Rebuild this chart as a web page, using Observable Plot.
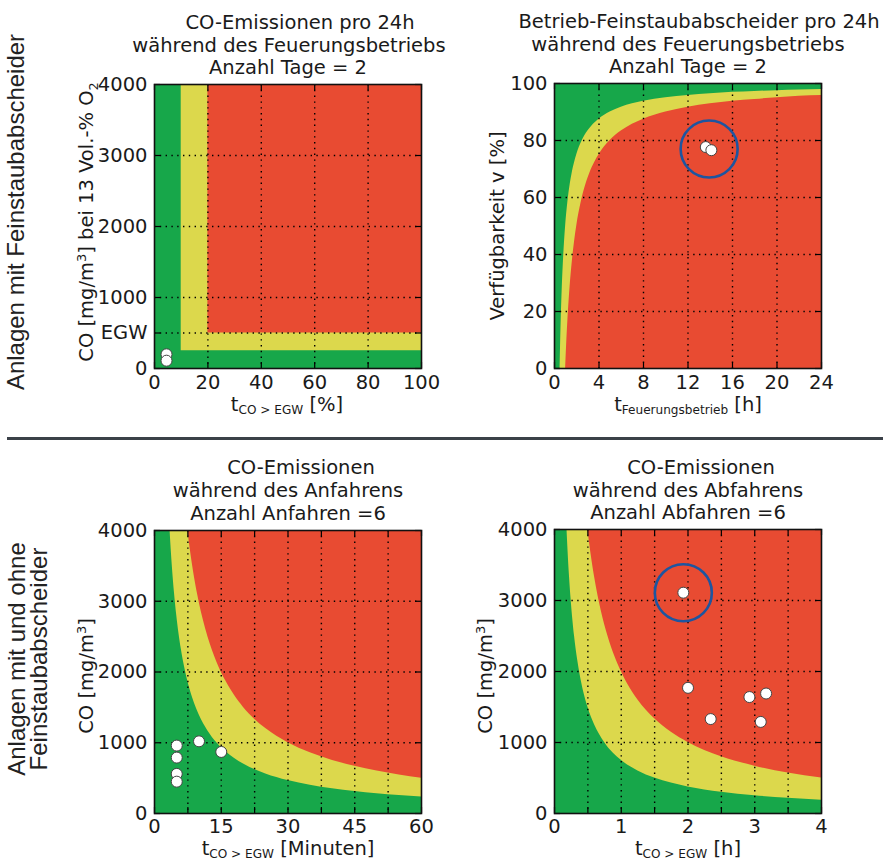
<!DOCTYPE html>
<html><head><meta charset="utf-8">
<script src="https://cdn.jsdelivr.net/npm/d3@7"></script>
<script src="https://cdn.jsdelivr.net/npm/@observablehq/plot@0.6"></script>
<style>
html,body{margin:0;padding:0;background:#fff;}
#root{position:relative;width:883px;height:861px;overflow:hidden;background:#fff;font-family:"DejaVu Sans",sans-serif;color:#1a1a1a;}
.lbl{position:absolute;white-space:nowrap;font-size:19.5px;line-height:22px;transform:translate(-50%,-50%);}
.xl{line-height:10px;}
.rot{position:absolute;white-space:nowrap;font-size:19.5px;line-height:22px;transform:translate(-50%,-50%) rotate(-90deg);text-align:center;}
.side{font-family:"Liberation Sans",Arial,sans-serif;font-size:24px;line-height:22px;color:#222;}
sub,sup{font-size:0.66em;line-height:0;}
sub.s{font-size:0.62em;vertical-align:-0.22em;}
.sep{position:absolute;left:7px;top:437px;width:876px;height:3px;background:#3b4148;}
svg{position:absolute;}
</style></head>
<body><div id="root"><div class="sep"></div></div>
<script>
const GREEN = "#17a74a", YELLOW = "#dcd84c", RED = "#e84b32", RING = "#1d55a0";

// ---------- Panel 1: CO-Emissionen pro 24h ----------
const p1Title = ["CO-Emissionen pro 24h", "während des Feuerungsbetriebs", "Anzahl Tage = 2"];
const p1XTicks = [0, 20, 40, 60, 80, 100];
const p1XLabels = ["0", "20", "40", "60", "80", "100"];
const p1XGrid = [20, 40, 60, 80];
const p1YTicks = [0, 500, 1000, 2000, 3000, 4000];
const p1YLabels = ["0", "EGW", "1000", "2000", "3000", "4000"];
const p1YGrid = [500, 1000, 2000, 3000];
const p1YellowFrom = [10, 250];   // t [%], CO
const p1RedFrom = [20, 500];
const p1T = [4.5, 4.5];
const p1CO = [200, 110];

// ---------- Panel 2: Betrieb-Feinstaubabscheider ----------
const p2Title = ["Betrieb-Feinstaubabscheider pro 24h", "während des Feuerungsbetriebs", "Anzahl Tage = 2"];
const p2XTicks = [0, 4, 8, 12, 16, 20, 24];
const p2XLabels = ["0", "4", "8", "12", "16", "20", "24"];
const p2XGrid = [4, 8, 12, 16, 20];
const p2YTicks = [0, 20, 40, 60, 80, 100];
const p2YLabels = ["0", "20", "40", "60", "80", "100"];
const p2YGrid = [20, 40, 60, 80];
const p2GreenYellowT = [0.5, 0.55, 0.6, 0.7, 0.8, 0.9, 1, 1.2, 1.4, 1.6, 1.8, 2, 2.5, 3, 3.5, 4, 5, 6, 7, 8, 10, 12, 14, 16, 18, 20, 22, 24];
const p2GreenYellowV = [0, 9.1, 16.7, 28.6, 37.5, 44.4, 50, 58.3, 64.3, 68.8, 72.2, 75, 80, 83.3, 85.7, 87.5, 90, 91.7, 92.9, 93.8, 95, 95.8, 96.4, 96.9, 97.2, 97.5, 97.7, 97.9];
const p2YellowRedT = [1, 1.1, 1.2, 1.4, 1.6, 1.8, 2, 2.4, 2.8, 3.2, 3.6, 4, 5, 6, 7, 8, 10, 12, 14, 16, 18, 20, 22, 24];
const p2YellowRedV = [0, 9.1, 16.7, 28.6, 37.5, 44.4, 50, 58.3, 64.3, 68.8, 72.2, 75, 80, 83.3, 85.7, 87.5, 90, 91.7, 92.9, 93.8, 94.4, 95, 95.5, 95.8];
const p2T = [13.6, 14.1];
const p2V = [77.7, 76.6];
const p2RingT = [13.9];
const p2RingV = [77];

// ---------- Panel 3: Anfahren ----------
const p3Title = ["CO-Emissionen", "während des Anfahrens", "Anzahl Anfahren =6"];
const p3XTicks = [0, 15, 30, 45, 60];
const p3XLabels = ["0", "15", "30", "45", "60"];
const p3XGrid = [7.5, 15, 22.5, 30, 37.5, 45, 52.5];
const p3YTicks = [0, 1000, 2000, 3000, 4000];
const p3YLabels = ["0", "1000", "2000", "3000", "4000"];
const p3YGrid = [1000, 2000, 3000];
const p3GreenYellowT = [3.5, 3.75, 4, 4.5, 5, 6, 7, 8, 9, 10, 12, 14, 16, 18, 20, 25, 30, 35, 40, 45, 50, 55, 60];
const p3GreenYellowCO = [4000, 3733, 3500, 3111, 2800, 2333, 2000, 1750, 1556, 1400, 1167, 1000, 875, 778, 700, 560, 467, 400, 350, 311, 280, 255, 233];
const p3YellowRedT = [7.5, 8, 9, 10, 11, 12, 14, 16, 18, 20, 22.5, 25, 30, 35, 40, 45, 50, 55, 60];
const p3YellowRedCO = [4000, 3750, 3333, 3000, 2727, 2500, 2143, 1875, 1667, 1500, 1333, 1200, 1000, 857, 750, 667, 600, 545, 500];
const p3T = [5, 5, 5, 5, 10, 15];
const p3CO = [960, 790, 560, 450, 1020, 870];

// ---------- Panel 4: Abfahren ----------
const p4Title = ["CO-Emissionen", "während des Abfahrens", "Anzahl Abfahren =6"];
const p4XTicks = [0, 1, 2, 3, 4];
const p4XLabels = ["0", "1", "2", "3", "4"];
const p4XGrid = [0.5, 1, 1.5, 2, 2.5, 3, 3.5];
const p4YTicks = [0, 1000, 2000, 3000, 4000];
const p4YLabels = ["0", "1000", "2000", "3000", "4000"];
const p4YGrid = [1000, 2000, 3000];
const p4GreenYellowT = [0.1875, 0.2, 0.225, 0.25, 0.3, 0.35, 0.4, 0.5, 0.6, 0.75, 1, 1.25, 1.5, 2, 2.5, 3, 3.5, 4];
const p4GreenYellowCO = [4000, 3750, 3333, 3000, 2500, 2143, 1875, 1500, 1250, 1000, 750, 600, 500, 375, 300, 250, 214, 188];
const p4YellowRedT = [0.5, 0.55, 0.6, 0.7, 0.8, 0.9, 1, 1.1, 1.25, 1.5, 1.75, 2, 2.5, 3, 3.5, 4];
const p4YellowRedCO = [4000, 3636, 3333, 2857, 2500, 2222, 2000, 1818, 1600, 1333, 1143, 1000, 800, 667, 571, 500];
const p4T = [1.93, 2.0, 2.34, 2.92, 3.17, 3.09];
const p4CO = [3110, 1770, 1330, 1640, 1690, 1290];
const p4RingT = [1.93];
const p4RingCO = [3110];

const root = document.getElementById("root");
const zip = (xs, ys) => xs.map((t, i) => ({t, v: ys[i]}));

function addPlot(o) {
  const pw = o.width - o.ml - o.mr, ph = o.height - o.mt - o.mb;
  const allX = Array.from(new Set([...o.xTicks, ...o.xGrid]));
  const allY = Array.from(new Set([...o.yTicks, ...o.yGrid]));
  const tick = {stroke: "#000", strokeWidth: 1.2};
  const grid = {stroke: "#000", strokeWidth: 1.4, strokeDasharray: "1.4,4.4"};
  const marks = [
    Plot.frame({fill: GREEN, stroke: "none"}),
    ...o.bg,
    Plot.ruleX(o.xGrid, grid),
    Plot.ruleY(o.yGrid, grid),
    Plot.ruleX(allX, {...tick, insetTop: ph - 6}),
    Plot.ruleX(allX, {...tick, insetBottom: ph - 6}),
    Plot.ruleY(allY, {...tick, insetRight: pw - 6}),
    Plot.ruleY(allY, {...tick, insetLeft: pw - 6}),
    Plot.dot(o.points, {x: "t", y: "v", r: 5.5, fill: "#fff", stroke: "#444", strokeWidth: 1}),
    o.rings ? Plot.dot(o.rings, {x: "t", y: "v", r: 28.5, fill: "none", stroke: RING, strokeWidth: 2.6}) : null,
    Plot.frame({stroke: "#111", strokeWidth: 1.6}),
    Plot.axisX(o.xTicks, {tickSize: 0, tickPadding: o.xPad, label: null, fontSize: 19.5,
      tickFormat: d => o.xLabels[o.xTicks.indexOf(d)]}),
    Plot.axisY(o.yTicks, {tickSize: 0, tickPadding: 7, label: null, fontSize: 19.5,
      tickFormat: d => o.yLabels[o.yTicks.indexOf(d)]})
  ];
  const svg = Plot.plot({
    width: o.width, height: o.height,
    marginTop: o.mt, marginRight: o.mr, marginBottom: o.mb, marginLeft: o.ml,
    x: {domain: o.xd}, y: {domain: o.yd},
    style: {fontFamily: "DejaVu Sans", fontSize: "19.5px", color: "#1a1a1a", background: "transparent", overflow: "visible"},
    marks
  });
  svg.style.left = o.left + "px";
  svg.style.top = o.top + "px";
  root.appendChild(svg);
}

function addText(html, cx, cy, cls) {
  const d = document.createElement("div");
  d.className = cls;
  d.style.left = cx + "px";
  d.style.top = cy + "px";
  d.innerHTML = html;
  root.appendChild(d);
}

// Panel 1
addPlot({
  left: 0, top: 0, width: 440, height: 430, mt: 84, mr: 19, mb: 62, ml: 154, xPad: 7,
  xd: [0, 100], yd: [0, 4000],
  xTicks: p1XTicks, xLabels: p1XLabels, xGrid: p1XGrid,
  yTicks: p1YTicks, yLabels: p1YLabels, yGrid: p1YGrid,
  bg: [
    Plot.rect([{x1: p1YellowFrom[0], y1: p1YellowFrom[1]}], {x1: "x1", y1: "y1", x2: p1XTicks[p1XTicks.length - 1], y2: p1YTicks[p1YTicks.length - 1], fill: YELLOW}),
    Plot.rect([{x1: p1RedFrom[0], y1: p1RedFrom[1]}], {x1: "x1", y1: "y1", x2: p1XTicks[p1XTicks.length - 1], y2: p1YTicks[p1YTicks.length - 1], fill: RED})
  ],
  points: zip(p1T, p1CO)
});

// Panel 2
addPlot({
  left: 440, top: 0, width: 443, height: 430, mt: 83, mr: 62, mb: 62, ml: 114, xPad: 7,
  xd: [0, 24], yd: [0, 100],
  xTicks: p2XTicks, xLabels: p2XLabels, xGrid: p2XGrid,
  yTicks: p2YTicks, yLabels: p2YLabels, yGrid: p2YGrid,
  bg: [
    Plot.areaY(zip(p2GreenYellowT, p2GreenYellowV), {x: "t", y: "v", fill: YELLOW, curve: "monotone-x"}),
    Plot.areaY(zip(p2YellowRedT, p2YellowRedV), {x: "t", y: "v", fill: RED, curve: "monotone-x"})
  ],
  points: zip(p2T, p2V),
  rings: zip(p2RingT, p2RingV)
});

// Panel 3
addPlot({
  left: 0, top: 440, width: 440, height: 421, mt: 90, mr: 19, mb: 48, ml: 154, xPad: 5.5,
  xd: [0, 60], yd: [0, 4000],
  xTicks: p3XTicks, xLabels: p3XLabels, xGrid: p3XGrid,
  yTicks: p3YTicks, yLabels: p3YLabels, yGrid: p3YGrid,
  bg: [
    Plot.areaY(zip(p3GreenYellowT, p3GreenYellowCO), {x: "t", y1: "v", y2: 4000, fill: YELLOW, curve: "monotone-x", clip: true}),
    Plot.areaY(zip(p3YellowRedT, p3YellowRedCO), {x: "t", y1: "v", y2: 4000, fill: RED, curve: "monotone-x", clip: true})
  ],
  points: zip(p3T, p3CO)
});

// Panel 4
addPlot({
  left: 440, top: 440, width: 443, height: 421, mt: 89, mr: 62, mb: 48, ml: 114, xPad: 5.5,
  xd: [0, 4], yd: [0, 4000],
  xTicks: p4XTicks, xLabels: p4XLabels, xGrid: p4XGrid,
  yTicks: p4YTicks, yLabels: p4YLabels, yGrid: p4YGrid,
  bg: [
    Plot.areaY(zip(p4GreenYellowT, p4GreenYellowCO), {x: "t", y1: "v", y2: 4000, fill: YELLOW, curve: "monotone-x", clip: true}),
    Plot.areaY(zip(p4YellowRedT, p4YellowRedCO), {x: "t", y1: "v", y2: 4000, fill: RED, curve: "monotone-x", clip: true})
  ],
  points: zip(p4T, p4CO),
  rings: zip(p4RingT, p4RingCO)
});

// Titles
const titleSpecs = [
  [p1Title, [300, 289, 288], [23, 45.5, 68]],
  [p2Title, [699, 688, 688], [22, 44.5, 67]],
  [p3Title, [301, 288, 288], [468, 491, 514]],
  [p4Title, [701, 688, 688], [468, 491, 513]]
];
titleSpecs.forEach(([lines, xs, ys]) => lines.forEach((s, i) => addText(s, xs[i], ys[i], "lbl")));

// Axis labels
addText('t<sub class="s">CO &gt; EGW</sub> [%]', 287, 405, "lbl xl");
addText('t<sub class="s">Feuerungsbetrieb</sub> [h]', 688, 405, "lbl xl");
addText('t<sub class="s">CO &gt; EGW</sub> [Minuten]', 288, 848.5, "lbl xl");
addText('t<sub class="s">CO &gt; EGW</sub> [h]', 688, 848.5, "lbl xl");
addText('CO [mg/m<sup>3</sup>] bei 13 Vol.-% O<sub>2</sub>', 87, 222, "rot");
addText('Verfügbarkeit v [%]', 498, 226, "rot");
addText('CO [mg/m<sup>3</sup>]', 87, 676, "rot");
addText('CO [mg/m<sup>3</sup>]', 486, 676, "rot");

// Row labels
addText('Anlagen mit Feinstaubabscheider', 16, 212, "rot side");
addText('Anlagen mit und ohne<br>Feinstaubabscheider', 28, 659, "rot side");
</script></body></html>
